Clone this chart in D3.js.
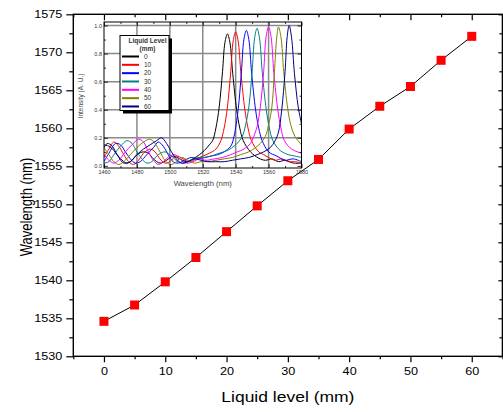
<!DOCTYPE html>
<html>
<head>
<meta charset="utf-8">
<script src="https://cdn.jsdelivr.net/npm/d3@7"></script>
<style>
  html, body { margin: 0; padding: 0; background: #fff; }
  svg { display: block; font-family: "Liberation Sans", Arial, sans-serif; }
</style>
</head>
<body>
<div id="chart"></div>
<script>
// main series: peak wavelength vs liquid level
const levels = [0, 5, 10, 15, 20, 25, 30, 35, 40, 45, 50, 55, 60];
const peakWl = [1534.6, 1536.75, 1539.8, 1543.0, 1546.4, 1549.8, 1553.1, 1555.9, 1559.9, 1562.9, 1565.5, 1568.95, 1572.1];

const xTicks = [0, 10, 20, 30, 40, 50, 60];
const yTicks = [1530, 1535, 1540, 1545, 1550, 1555, 1560, 1565, 1570, 1575];

// inset spectra, [wavelength nm, intensity a.u.]
const spec0 = [[1460,0.13],[1462,0.16],[1465,0.14],[1468,0.08],[1471,0.04],[1474,0.02],[1477,0.04],[1480,0.08],[1484,0.1],[1487,0.09],[1490,0.05],[1494,0.02],[1498,0.04],[1502,0.07],[1506,0.05],[1510,0.03],[1514,0.05],[1518,0.08],[1521,0.11],[1524,0.15],[1526,0.18],[1528,0.27],[1530,0.42],[1532,0.67],[1533.5,0.88],[1535,0.94],[1536.5,0.88],[1538.2,0.66],[1540.6,0.4],[1542.5,0.27],[1544.6,0.18],[1549,0.1],[1554,0.055],[1558,0.04],[1562,0.05],[1566,0.03],[1570,0.04],[1575,0.02],[1580,0.02]];
const spec10 = [[1460,0.06],[1463,0.12],[1466,0.17],[1469,0.14],[1472,0.08],[1475,0.03],[1478,0.01],[1481,0.04],[1484,0.09],[1488,0.12],[1491,0.1],[1494,0.05],[1497,0.02],[1500,0.03],[1504,0.07],[1508,0.05],[1512,0.03],[1516,0.05],[1520,0.07],[1524,0.09],[1528,0.12],[1531,0.18],[1533,0.27],[1535,0.42],[1537,0.67],[1538.5,0.89],[1540,0.955],[1541.5,0.89],[1543.2,0.66],[1545.6,0.4],[1547.5,0.27],[1549.6,0.18],[1554,0.1],[1557,0.08],[1560,0.06],[1564,0.04],[1568,0.05],[1572,0.03],[1576,0.03],[1580,0.02]];
const spec20 = [[1460,0.03],[1463,0.09],[1467,0.16],[1470,0.15],[1473,0.1],[1476,0.05],[1479,0.02],[1482,0.03],[1486,0.08],[1490,0.13],[1493,0.17],[1496,0.14],[1499,0.08],[1502,0.03],[1505,0.02],[1509,0.04],[1513,0.06],[1517,0.05],[1521,0.06],[1525,0.07],[1529,0.08],[1533,0.1],[1537,0.14],[1539,0.21],[1541.5,0.4],[1543.5,0.67],[1545,0.9],[1546.5,0.965],[1548,0.9],[1549.7,0.66],[1552.1,0.4],[1554,0.27],[1556.1,0.18],[1560,0.1],[1565,0.07],[1570,0.04],[1575,0.05],[1580,0.03]];
const spec30 = [[1460,0.02],[1463,0.03],[1466,0.08],[1470,0.14],[1474,0.18],[1477,0.16],[1480,0.1],[1483,0.05],[1486,0.02],[1489,0.03],[1493,0.08],[1497,0.1],[1501,0.07],[1505,0.03],[1509,0.02],[1513,0.04],[1517,0.06],[1521,0.06],[1525,0.07],[1530,0.09],[1535,0.11],[1540,0.15],[1544,0.21],[1546,0.29],[1548,0.42],[1550,0.67],[1551.5,0.91],[1553,0.98],[1554.5,0.91],[1556.2,0.66],[1558.6,0.4],[1560.5,0.27],[1562.6,0.18],[1567,0.11],[1572,0.08],[1576,0.07],[1580,0.06]];
const spec40 = [[1460,0.08],[1463,0.04],[1466,0.02],[1469,0.04],[1473,0.1],[1477,0.15],[1481,0.19],[1484,0.17],[1487,0.1],[1490,0.04],[1493,0.01],[1496,0.03],[1500,0.07],[1503,0.08],[1506,0.05],[1510,0.02],[1514,0.03],[1518,0.05],[1522,0.04],[1527,0.05],[1532,0.06],[1537,0.08],[1541,0.1],[1545,0.12],[1549,0.16],[1551,0.21],[1553,0.28],[1555,0.42],[1557,0.67],[1558.5,0.92],[1560,0.99],[1561.5,0.92],[1563.2,0.66],[1565.6,0.4],[1567.5,0.27],[1569.6,0.18],[1574,0.12],[1580,0.09]];
const spec50 = [[1460,0.13],[1463,0.08],[1466,0.03],[1469,0.01],[1472,0.03],[1476,0.08],[1480,0.13],[1484,0.17],[1488,0.19],[1491,0.16],[1494,0.1],[1497,0.04],[1500,0.01],[1503,0.02],[1507,0.06],[1511,0.04],[1515,0.02],[1519,0.03],[1523,0.03],[1528,0.04],[1533,0.05],[1538,0.06],[1543,0.08],[1548,0.1],[1552,0.13],[1555,0.16],[1558,0.21],[1560,0.29],[1562,0.42],[1563.5,0.66],[1565,0.92],[1566,0.99],[1567.5,0.92],[1569.2,0.67],[1571.6,0.41],[1573.5,0.29],[1576,0.21],[1580,0.15]];
const spec60 = [[1460,0.15],[1463,0.14],[1466,0.11],[1469,0.06],[1472,0.02],[1476,0.03],[1480,0.08],[1484,0.12],[1488,0.15],[1492,0.18],[1495,0.2],[1498,0.16],[1501,0.1],[1504,0.05],[1507,0.02],[1511,0.03],[1515,0.05],[1519,0.04],[1523,0.03],[1528,0.03],[1533,0.03],[1538,0.04],[1543,0.05],[1548,0.06],[1553,0.08],[1557,0.1],[1561,0.13],[1564,0.18],[1566,0.24],[1568,0.4],[1570,0.67],[1571.3,0.92],[1572.5,1.0],[1574,0.91],[1575.7,0.66],[1578,0.42],[1580,0.3]];

const specLabels = ['0', '10', '20', '30', '40', '50', '60'];
const specColors = ['#000000', '#ff0000', '#0000ff', '#008080', '#ff00ff', '#808000', '#000080'];
const spectra = [spec0, spec10, spec20, spec30, spec40, spec50, spec60];

const insetXTicks = [1460, 1480, 1500, 1520, 1540, 1560, 1580];
const insetYTicks = [0, 0.2, 0.4, 0.6, 0.8, 1.0];

const W = 503, H = 412;
const svg = d3.select('#chart').append('svg').attr('width', W).attr('height', H);

const m = { left: 73.3, right: 502.4, top: 14.3, bottom: 356.3 };
const x = d3.scaleLinear().domain([-5, 65]).range([m.left, m.right]);
const y = d3.scaleLinear().domain([1530, 1575]).range([m.bottom, m.top]);

const minorX = d3.range(-5, 66, 10);
const minorY = d3.range(1532.5, 1575, 5);

function axisG(axis, tx, ty) {
  const g = svg.append('g').attr('transform', `translate(${tx},${ty})`).call(axis);
  g.select('.domain').remove();
  g.selectAll('line').attr('stroke', '#000').attr('stroke-width', 1.2);
  return g;
}

// bottom
const gb = axisG(d3.axisBottom(x).tickValues(xTicks).tickSize(6).tickPadding(5).tickFormat(d3.format('d')), 0, m.bottom);
gb.selectAll('text').attr('font-size', 11.5).attr('fill', '#000').attr('transform', 'scale(1.1,1)');
axisG(d3.axisBottom(x).tickValues(minorX).tickSize(3).tickFormat(''), 0, m.bottom);
// left
const gl = axisG(d3.axisLeft(y).tickValues(yTicks).tickSize(7).tickPadding(3).tickFormat(d3.format('d')), m.left, 0);
gl.selectAll('text').attr('font-size', 11.5).attr('fill', '#000').attr('transform', 'scale(1.1,1)');
axisG(d3.axisLeft(y).tickValues(minorY).tickSize(4).tickFormat(''), m.left, 0);
// top and right mirror, inward
axisG(d3.axisTop(x).tickValues(xTicks).tickSize(-6).tickFormat(''), 0, m.top);
axisG(d3.axisTop(x).tickValues(minorX).tickSize(-3).tickFormat(''), 0, m.top);
axisG(d3.axisRight(y).tickValues(yTicks).tickSize(-4).tickFormat(''), m.right, 0);
axisG(d3.axisRight(y).tickValues(minorY).tickSize(-3).tickFormat(''), m.right, 0);

svg.append('rect')
  .attr('x', m.left).attr('y', m.top)
  .attr('width', m.right - m.left).attr('height', m.bottom - m.top)
  .attr('fill', 'none').attr('stroke', '#000').attr('stroke-width', 1.4);

// axis titles
svg.append('text')
  .attr('transform', `translate(${(m.left + m.right) / 2},402) scale(1.25,1)`)
  .attr('text-anchor', 'middle').attr('font-size', 14).text('Liquid level (mm)');
svg.append('text')
  .attr('transform', `translate(26,207) scale(1.3,1) rotate(-90)`)
  .attr('text-anchor', 'middle').attr('dominant-baseline', 'central')
  .attr('font-size', 13).text('Wavelength (nm)');

// data line + markers
const pts = levels.map((d, i) => [d, peakWl[i]]);
svg.append('path')
  .datum(pts)
  .attr('fill', 'none').attr('stroke', '#000').attr('stroke-width', 1)
  .attr('d', d3.line().x(d => x(d[0])).y(d => y(d[1])));
svg.selectAll('.mk').data(pts).join('rect')
  .attr('class', 'mk')
  .attr('x', d => x(d[0]) - 4.5).attr('y', d => y(d[1]) - 4.5)
  .attr('width', 9).attr('height', 9)
  .attr('fill', '#ff0000');

// ---- inset ----
const ins = { left: 104, right: 301.5, top: 22, bottom: 168 };
const xi = d3.scaleLinear().domain([1460, 1580]).range([ins.left, ins.right]);
const yi = d3.scaleLinear().domain([-0.015, 1.025]).range([ins.bottom, ins.top]);

svg.append('rect')
  .attr('x', ins.left).attr('y', ins.top)
  .attr('width', ins.right - ins.left).attr('height', ins.bottom - ins.top)
  .attr('fill', '#fff');

svg.append('clipPath').attr('id', 'insclip').append('rect')
  .attr('x', ins.left).attr('y', ins.top)
  .attr('width', ins.right - ins.left).attr('height', ins.bottom - ins.top);

// grid
const grid = svg.append('g').attr('stroke', '#8a8a8a').attr('stroke-width', 1.5);
grid.selectAll('.gx').data(insetXTicks.slice(1, -1)).join('line')
  .attr('x1', d => xi(d)).attr('x2', d => xi(d))
  .attr('y1', ins.top).attr('y2', ins.bottom);
grid.selectAll('.gy').data(insetYTicks.slice(1)).join('line')
  .attr('y1', d => yi(d)).attr('y2', d => yi(d))
  .attr('x1', ins.left).attr('x2', ins.right);

const specLine = d3.line().x(d => xi(d[0])).y(d => yi(d[1])).curve(d3.curveCatmullRom.alpha(0.5));
svg.append('g').attr('clip-path', 'url(#insclip)')
  .selectAll('path').data(spectra).join('path')
  .attr('fill', 'none')
  .attr('stroke', (d, i) => specColors[i])
  .attr('stroke-width', 1)
  .attr('d', specLine);

svg.append('rect')
  .attr('x', ins.left).attr('y', ins.top)
  .attr('width', ins.right - ins.left).attr('height', ins.bottom - ins.top)
  .attr('fill', 'none').attr('stroke', '#000').attr('stroke-width', 1);

function insAxis(axis, tx, ty) {
  const g = svg.append('g').attr('transform', `translate(${tx},${ty})`).call(axis);
  g.select('.domain').remove();
  g.selectAll('line').attr('stroke', '#000').attr('stroke-width', 0.8);
  g.selectAll('text').attr('font-size', 5.5).attr('fill', '#333');
  return g;
}
const insMinorX = d3.range(1470, 1580, 20);
const insMinorY = [0.1, 0.3, 0.5, 0.7, 0.9];
insAxis(d3.axisBottom(xi).tickValues(insetXTicks).tickSize(-4).tickPadding(2).tickFormat(d3.format('d')), 0, ins.bottom);
insAxis(d3.axisBottom(xi).tickValues(insMinorX).tickSize(-2).tickFormat(''), 0, ins.bottom);
insAxis(d3.axisTop(xi).tickValues(insetXTicks).tickSize(-4).tickFormat(''), 0, ins.top);
insAxis(d3.axisTop(xi).tickValues(insMinorX).tickSize(-2).tickFormat(''), 0, ins.top);
insAxis(d3.axisLeft(yi).tickValues(insetYTicks).tickSize(-4).tickPadding(2).tickFormat(d3.format('.1f')), ins.left, 0);
insAxis(d3.axisLeft(yi).tickValues(insMinorY).tickSize(-2).tickFormat(''), ins.left, 0);
insAxis(d3.axisRight(yi).tickValues(insetYTicks).tickSize(-4).tickFormat(''), ins.right, 0);
insAxis(d3.axisRight(yi).tickValues(insMinorY).tickSize(-2).tickFormat(''), ins.right, 0);

svg.append('text')
  .attr('transform', `translate(${(ins.left + ins.right) / 2},186) scale(1.1,1)`)
  .attr('text-anchor', 'middle').attr('font-size', 7).attr('fill', '#444')
  .text('Wavelength (nm)');
svg.append('text')
  .attr('transform', `translate(80,${(ins.top + ins.bottom) / 2 + 1}) rotate(-90)`)
  .attr('text-anchor', 'middle').attr('dominant-baseline', 'central')
  .attr('font-size', 6.5).attr('fill', '#444')
  .text('Intensity (A. U.)');

// legend
const lg = { x: 120, y: 35.5, w: 49, h: 75 };
svg.append('rect').attr('x', lg.x + 3).attr('y', lg.y + 3).attr('width', lg.w).attr('height', lg.h).attr('fill', '#000');
svg.append('rect').attr('x', lg.x).attr('y', lg.y).attr('width', lg.w).attr('height', lg.h)
  .attr('fill', '#fff').attr('stroke', '#000').attr('stroke-width', 1);
svg.append('text').attr('x', lg.x + lg.w / 2 + 3).attr('y', lg.y + 7)
  .attr('text-anchor', 'middle').attr('font-size', 6.5).attr('font-weight', 'bold').attr('fill', '#333')
  .text('Liquid Level');
svg.append('text').attr('x', lg.x + lg.w / 2 + 3).attr('y', lg.y + 15)
  .attr('text-anchor', 'middle').attr('font-size', 6.5).attr('font-weight', 'bold').attr('fill', '#333')
  .text('(mm)');
const items = svg.selectAll('.lgi').data(specLabels).join('g')
  .attr('class', 'lgi')
  .attr('transform', (d, i) => `translate(${lg.x},${lg.y + 21 + i * 8.33})`);
items.append('line').attr('x1', 2).attr('x2', 19).attr('y1', 0).attr('y2', 0)
  .attr('stroke', (d, i) => specColors[i]).attr('stroke-width', 2);
items.append('text').attr('x', 24).attr('y', 2.3)
  .attr('font-size', 6.5).attr('fill', '#333').text(d => d);
</script>
</body>
</html>
